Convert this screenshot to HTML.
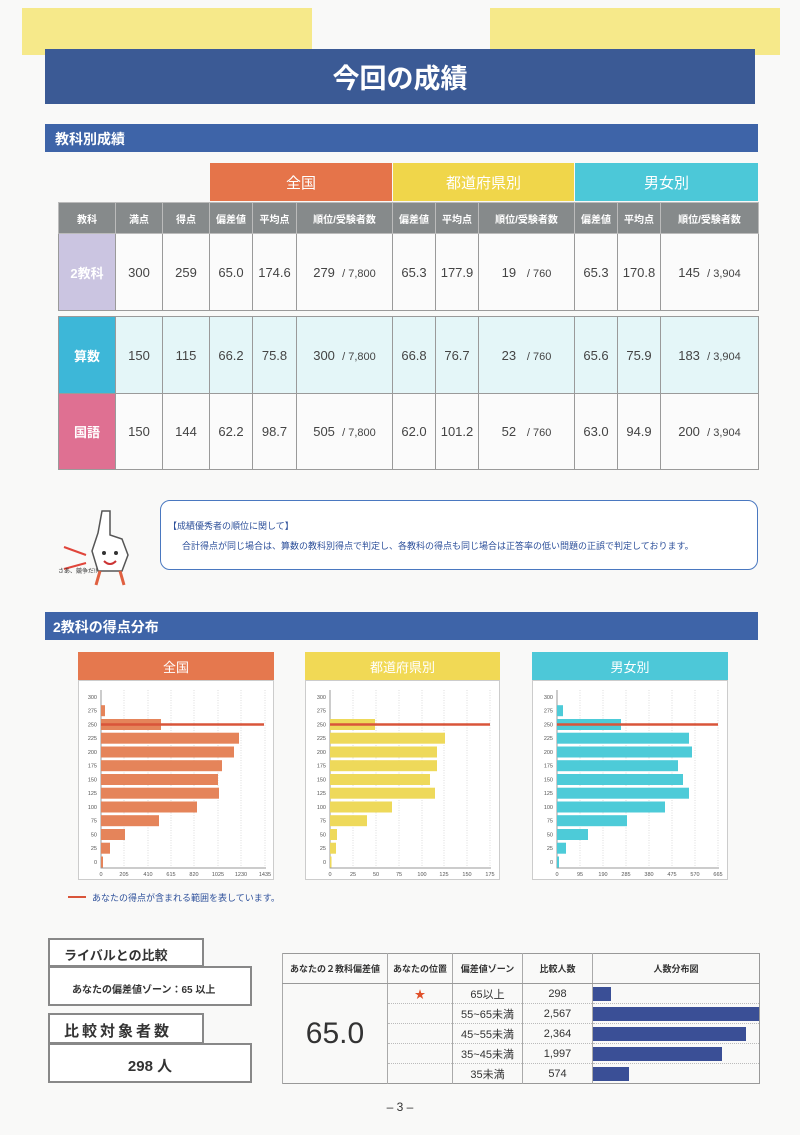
<!DOCTYPE html>
<html><head><meta charset="utf-8">
<style>
*{margin:0;padding:0;box-sizing:border-box}
body{width:800px;height:1135px;background:#f9f9f8;position:relative;overflow:hidden;font-family:"Liberation Sans","Noto Sans CJK JP",sans-serif;color:#333}
.a{position:absolute}
.c{display:flex;align-items:center;justify-content:center}
table.t{position:absolute;left:58px;top:202px;border-collapse:collapse;table-layout:fixed}
table.t td{border:1px solid #9a9a9a;text-align:center;font-size:13px;color:#444;padding:0;white-space:nowrap}
table.t tr.h td{background:#868a8b;color:#fff;font-size:10px;font-weight:bold;height:31px;border-color:#bbb}
table.t td.lab{color:#fff;font-weight:bold;font-size:13px}
.sm{font-size:11px}
table.r{position:absolute;left:282px;top:953px;border-collapse:collapse;table-layout:fixed;border:1px solid #999}
table.r td{border-left:1px solid #aaa;text-align:center;font-size:11px;height:20px;padding:0;border-bottom:1px dotted #bbb}
table.r tr.h td{height:30px;font-size:9px;font-weight:bold;border-bottom:1px solid #999}
</style></head><body>
<div class="a" style="left:22px;top:8px;width:290px;height:47px;background:#f6e98a"></div>
<div class="a" style="left:490px;top:8px;width:290px;height:47px;background:#f6e98a"></div>
<div class="a c" style="left:45px;top:49px;width:710px;height:55px;background:#3b5a95;color:#fff;font-size:27px;font-weight:bold">今回の成績</div>
<div class="a" style="left:45px;top:124px;width:713px;height:28px;background:#3e64a8;color:#fff;font-size:14px;font-weight:bold;padding:5px 0 0 10px">教科別成績</div>

<div class="a c" style="left:210px;top:163px;width:182px;height:38px;background:#e5744a;color:#fff;font-size:15px">全国</div>
<div class="a c" style="left:393px;top:163px;width:181px;height:38px;background:#f0d64a;color:#fff;font-size:15px">都道府県別</div>
<div class="a c" style="left:575px;top:163px;width:183px;height:38px;background:#4cc8d8;color:#fff;font-size:15px">男女別</div>

<table class="t">
<colgroup><col style="width:57px"><col style="width:47px"><col style="width:47px"><col style="width:43px"><col style="width:44px"><col style="width:96px"><col style="width:43px"><col style="width:43px"><col style="width:96px"><col style="width:43px"><col style="width:43px"><col style="width:98px"></colgroup>
<tr class="h"><td>教科</td><td>満点</td><td>得点</td><td>偏差値</td><td>平均点</td><td>順位/受験者数</td><td>偏差値</td><td>平均点</td><td>順位/受験者数</td><td>偏差値</td><td>平均点</td><td>順位/受験者数</td></tr>
<tr style="height:77px;background:#fbfbfb"><td class="lab" style="background:#cbc5e1">2教科</td><td>300</td><td>259</td><td>65.0</td><td>174.6</td><td>279 &nbsp;<span class="sm">/ 7,800</span></td><td>65.3</td><td>177.9</td><td>19 &nbsp; <span class="sm">/ 760</span></td><td>65.3</td><td>170.8</td><td>145 &nbsp;<span class="sm">/ 3,904</span></td></tr>
<tr style="height:6px"><td colspan="12" style="border:none;background:#f9f9f8"></td></tr>
<tr style="height:77px;background:#e4f6f8"><td class="lab" style="background:#3db7d8">算数</td><td>150</td><td>115</td><td>66.2</td><td>75.8</td><td>300 &nbsp;<span class="sm">/ 7,800</span></td><td>66.8</td><td>76.7</td><td>23 &nbsp; <span class="sm">/ 760</span></td><td>65.6</td><td>75.9</td><td>183 &nbsp;<span class="sm">/ 3,904</span></td></tr>
<tr style="height:76px;background:#fbfbfb"><td class="lab" style="background:#df7092">国語</td><td>150</td><td>144</td><td>62.2</td><td>98.7</td><td>505 &nbsp;<span class="sm">/ 7,800</span></td><td>62.0</td><td>101.2</td><td>52 &nbsp; <span class="sm">/ 760</span></td><td>63.0</td><td>94.9</td><td>200 &nbsp;<span class="sm">/ 3,904</span></td></tr>
</table>

<div class="a" style="left:160px;top:500px;width:598px;height:70px;border:1.5px solid #4a78c0;border-radius:10px;background:#fff"></div>
<div class="a" style="left:168px;top:519px;font-size:9px;color:#2c4f9a">【成績優秀者の順位に関して】</div>
<div class="a" style="left:182px;top:539px;font-size:9px;color:#2c4f9a;white-space:nowrap">合計得点が同じ場合は、算数の教科別得点で判定し、各教科の得点も同じ場合は正答率の低い問題の正誤で判定しております。</div>
<svg class="a" style="left:56px;top:505px" width="104" height="85">
<path d="M42 28 L46 6 L54 6 L54 30 L66 34 L72 50 L66 66 L42 66 L36 46 Z" fill="#fff" stroke="#555" stroke-width="1.5"/>
<circle cx="48" cy="48" r="2" fill="#333"/><circle cx="60" cy="48" r="2" fill="#333"/>
<path d="M48 56 Q54 62 60 56" stroke="#c33" stroke-width="2" fill="none"/>
<path d="M44 66 L40 80 M64 66 L68 80" stroke="#e06040" stroke-width="3"/>
<line x1="8" y1="42" x2="30" y2="50" stroke="#e0453a" stroke-width="2"/><line x1="8" y1="64" x2="30" y2="58" stroke="#e0453a" stroke-width="2"/>
<text x="2" y="68" font-size="6" fill="#333">さあ、競争だ!!</text>
</svg>

<div class="a" style="left:45px;top:612px;width:713px;height:28px;background:#3e64a8;color:#fff;font-size:14px;font-weight:bold;padding:5px 0 0 8px">2教科の得点分布</div>

<div class="a c" style="left:78px;top:652px;width:196px;height:28px;background:#e5784e;color:#fff;font-size:13px">全国</div>
<div class="a c" style="left:305px;top:652px;width:195px;height:28px;background:#f1d955;color:#fff;font-size:13px">都道府県別</div>
<div class="a c" style="left:532px;top:652px;width:196px;height:28px;background:#4dc8d8;color:#fff;font-size:13px">男女別</div>
<div class="a" style="left:78px;top:680px;width:196px;height:200px;background:#fff;border:1px solid #ccc"></div>
<div class="a" style="left:305px;top:680px;width:195px;height:200px;background:#fff;border:1px solid #ccc"></div>
<div class="a" style="left:532px;top:680px;width:196px;height:200px;background:#fff;border:1px solid #ccc"></div>

<svg class="a" style="left:0;top:0" width="800" height="1135" font-family="Liberation Sans, sans-serif">
<g font-size="5.5" fill="#555" text-anchor="end">
<g id="yl">
<text x="97" y="699">300</text><text x="97" y="712.7">275</text><text x="97" y="726.5">250</text><text x="97" y="740.2">225</text><text x="97" y="754">200</text><text x="97" y="767.7">175</text><text x="97" y="781.5">150</text><text x="97" y="795.2">125</text><text x="97" y="809">100</text><text x="97" y="822.7">75</text><text x="97" y="836.5">50</text><text x="97" y="850.2">25</text><text x="97" y="864">0</text>
</g>
<use href="#yl" x="229"/><use href="#yl" x="456"/>
</g>
<g stroke="#ddd" stroke-dasharray="1,1.5">
<line x1="124" y1="690" x2="124" y2="868"/><line x1="148" y1="690" x2="148" y2="868"/><line x1="171" y1="690" x2="171" y2="868"/><line x1="194" y1="690" x2="194" y2="868"/><line x1="218" y1="690" x2="218" y2="868"/><line x1="241" y1="690" x2="241" y2="868"/><line x1="265" y1="690" x2="265" y2="868"/>
<line x1="353" y1="690" x2="353" y2="868"/><line x1="376" y1="690" x2="376" y2="868"/><line x1="399" y1="690" x2="399" y2="868"/><line x1="422" y1="690" x2="422" y2="868"/><line x1="444" y1="690" x2="444" y2="868"/><line x1="467" y1="690" x2="467" y2="868"/><line x1="490" y1="690" x2="490" y2="868"/>
<line x1="580" y1="690" x2="580" y2="868"/><line x1="603" y1="690" x2="603" y2="868"/><line x1="626" y1="690" x2="626" y2="868"/><line x1="649" y1="690" x2="649" y2="868"/><line x1="672" y1="690" x2="672" y2="868"/><line x1="695" y1="690" x2="695" y2="868"/><line x1="718" y1="690" x2="718" y2="868"/>
</g>
<g stroke="#999"><path d="M101 690V868H266" fill="none"/><path d="M330 690V868H491" fill="none"/><path d="M557 690V868H719" fill="none"/></g>
<g fill="#e5845a">
<rect x="101" y="705.2" width="4" height="11"/><rect x="101" y="719" width="60" height="11"/><rect x="101" y="732.7" width="138" height="11"/><rect x="101" y="746.5" width="133" height="11"/><rect x="101" y="760.2" width="121" height="11"/><rect x="101" y="774" width="117" height="11"/><rect x="101" y="787.7" width="118" height="11"/><rect x="101" y="801.5" width="96" height="11"/><rect x="101" y="815.2" width="58" height="11"/><rect x="101" y="829" width="24" height="11"/><rect x="101" y="842.7" width="9" height="11"/><rect x="101" y="856.5" width="2" height="11"/>
</g>
<g fill="#eed95a">
<rect x="330" y="719" width="45" height="11"/><rect x="330" y="732.7" width="115" height="11"/><rect x="330" y="746.5" width="107" height="11"/><rect x="330" y="760.2" width="107" height="11"/><rect x="330" y="774" width="100" height="11"/><rect x="330" y="787.7" width="105" height="11"/><rect x="330" y="801.5" width="62" height="11"/><rect x="330" y="815.2" width="37" height="11"/><rect x="330" y="829" width="7" height="11"/><rect x="330" y="842.7" width="6" height="11"/><rect x="330" y="856.5" width="1.5" height="11"/>
</g>
<g fill="#4dcbd8">
<rect x="557" y="705.2" width="6" height="11"/><rect x="557" y="719" width="64" height="11"/><rect x="557" y="732.7" width="132" height="11"/><rect x="557" y="746.5" width="135" height="11"/><rect x="557" y="760.2" width="121" height="11"/><rect x="557" y="774" width="126" height="11"/><rect x="557" y="787.7" width="132" height="11"/><rect x="557" y="801.5" width="108" height="11"/><rect x="557" y="815.2" width="70" height="11"/><rect x="557" y="829" width="31" height="11"/><rect x="557" y="842.7" width="9" height="11"/><rect x="557" y="856.5" width="2" height="11"/>
</g>
<g stroke="#d9553a" stroke-width="2.5">
<line x1="101" y1="724.5" x2="264" y2="724.5"/><line x1="330" y1="724.5" x2="490" y2="724.5"/><line x1="557" y1="724.5" x2="718" y2="724.5"/>
</g>
<g font-size="5.5" fill="#555" text-anchor="middle">
<text x="101" y="876">0</text><text x="124" y="876">205</text><text x="148" y="876">410</text><text x="171" y="876">615</text><text x="194" y="876">820</text><text x="218" y="876">1025</text><text x="241" y="876">1230</text><text x="265" y="876">1435</text>
<text x="330" y="876">0</text><text x="353" y="876">25</text><text x="376" y="876">50</text><text x="399" y="876">75</text><text x="422" y="876">100</text><text x="444" y="876">125</text><text x="467" y="876">150</text><text x="490" y="876">175</text>
<text x="557" y="876">0</text><text x="580" y="876">95</text><text x="603" y="876">190</text><text x="626" y="876">285</text><text x="649" y="876">380</text><text x="672" y="876">475</text><text x="695" y="876">570</text><text x="718" y="876">665</text>
</g>
<line x1="68" y1="897" x2="86" y2="897" stroke="#d9553a" stroke-width="2"/>
</svg>
<div class="a" style="left:92px;top:891px;font-size:9px;color:#2c4f9a">あなたの得点が含まれる範囲を表しています。</div>

<div class="a" style="left:48px;top:966px;width:204px;height:40px;border:2px solid #888;background:#fff;font-size:10px;font-weight:bold;padding:13px 0 0 22px">あなたの偏差値ゾーン：65 以上</div>
<div class="a" style="left:48px;top:938px;width:156px;height:29px;border:2px solid #888;background:#fff;font-size:13px;font-weight:bold;padding:5px 0 0 14px">ライバルとの比較</div>
<div class="a" style="left:48px;top:1043px;width:204px;height:40px;border:2px solid #888;background:#fff;font-size:15px;font-weight:bold;text-align:center;padding-top:10px">298 人</div>
<div class="a" style="left:48px;top:1013px;width:156px;height:31px;border:2px solid #888;background:#fff;font-size:15px;font-weight:bold;padding:5px 0 0 14px;letter-spacing:3px">比較対象者数</div>

<table class="r">
<colgroup><col style="width:105px"><col style="width:65px"><col style="width:70px"><col style="width:70px"><col style="width:166px"></colgroup>
<tr class="h"><td>あなたの２教科偏差値</td><td>あなたの位置</td><td>偏差値ゾーン</td><td>比較人数</td><td>人数分布図</td></tr>
<tr><td rowspan="5" style="font-size:30px;border-bottom:none">65.0</td><td style="color:#e0502a">★</td><td>65以上</td><td>298</td><td style="text-align:left"><div style="width:18px;height:14px;background:#3a4f96"></div></td></tr>
<tr><td></td><td>55~65未満</td><td>2,567</td><td style="text-align:left"><div style="width:166px;height:14px;background:#3a4f96"></div></td></tr>
<tr><td></td><td>45~55未満</td><td>2,364</td><td style="text-align:left"><div style="width:153px;height:14px;background:#3a4f96"></div></td></tr>
<tr><td></td><td>35~45未満</td><td>1,997</td><td style="text-align:left"><div style="width:129px;height:14px;background:#3a4f96"></div></td></tr>
<tr><td></td><td>35未満</td><td>574</td><td style="text-align:left"><div style="width:36px;height:14px;background:#3a4f96"></div></td></tr>
</table>

<div class="a" style="left:0;top:1100px;width:800px;text-align:center;font-size:12px">– 3 –</div>
</body></html>
